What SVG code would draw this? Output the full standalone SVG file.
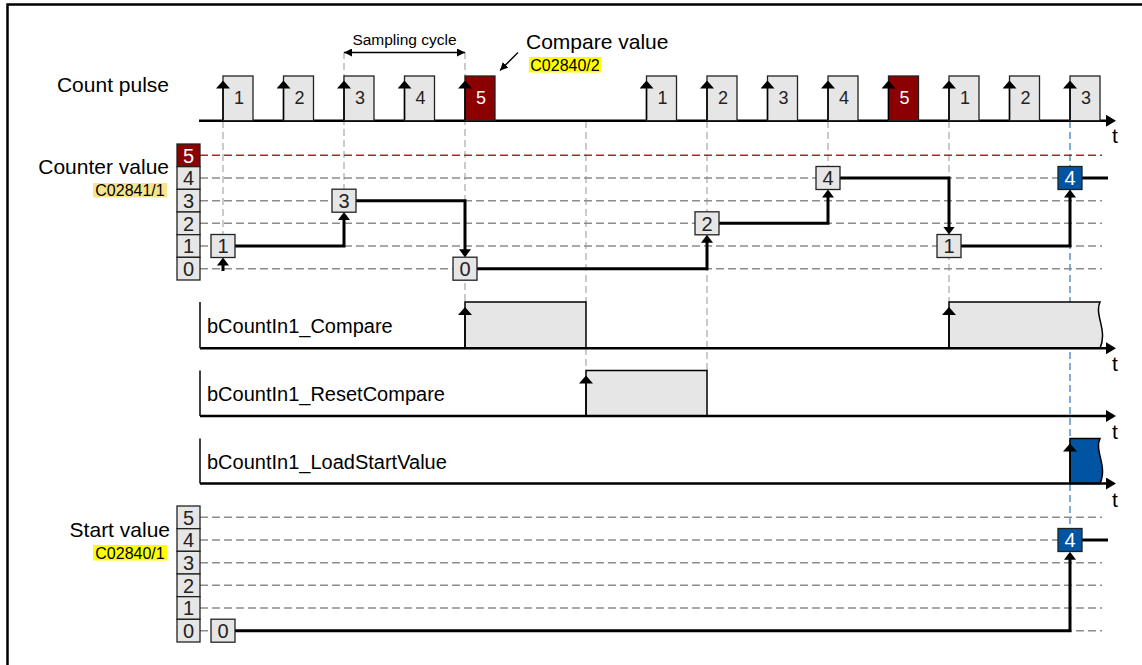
<svg xmlns="http://www.w3.org/2000/svg" width="1142" height="665" viewBox="0 0 1142 665">
<style>
.lbl{font-family:"Liberation Sans",Arial,sans-serif;font-size:21px;fill:#000}
.sig{font-family:"Liberation Sans",Arial,sans-serif;font-size:20px;fill:#000}
.code{font-family:"Liberation Sans",Arial,sans-serif;font-size:16px;fill:#000}
.small{font-family:"Liberation Sans",Arial,sans-serif;font-size:15.5px;fill:#000}
.dg{font-family:"Liberation Sans",Arial,sans-serif;font-size:18px;fill:#222;text-anchor:middle}
.dv{font-family:"Liberation Sans",Arial,sans-serif;font-size:20px;fill:#222;text-anchor:middle}
.w{fill:#fff}
.pulse{fill:#e6e6e6;stroke:#222;stroke-width:1.3}
.red{fill:#8b0000;stroke:#222;stroke-width:1.3}
.blue{fill:#0054a2;stroke:#222;stroke-width:1.3}
.box{fill:#e6e6e6;stroke:#222;stroke-width:1.3}
.axis{stroke:#000;stroke-width:2.5;fill:none;marker-end:url(#ax)}
.thin{stroke:#000;stroke-width:1.5;fill:none}
.rise{stroke:#000;stroke-width:1.5;fill:none;marker-end:url(#pa)}
.step{stroke:#000;stroke-width:3;fill:none}
.stepa{stroke:#000;stroke-width:3;fill:none;marker-end:url(#ah)}
.hd{stroke:#8c8c8c;stroke-width:1.5;stroke-dasharray:8 4;fill:none}
.hdr{stroke:#a52a2a;stroke-width:1.5;stroke-dasharray:8 4;fill:none}
.vd{stroke:#a8a8a8;stroke-width:1.2;stroke-dasharray:7 4;fill:none}
.vdb{stroke:#2f74c0;stroke-width:1.2;stroke-dasharray:7 4;fill:none}
.t{font-family:"Liberation Sans",Arial,sans-serif;font-size:21px;fill:#000;text-anchor:middle}
</style>
<defs>
<marker id="ax" viewBox="0 0 10 12" markerWidth="10" markerHeight="12" refX="2" refY="6" orient="auto" markerUnits="userSpaceOnUse" preserveAspectRatio="none"><path d="M0,0 L10,6 L0,12 z" fill="#000"/></marker>
<marker id="ah" viewBox="0 0 8 12" markerWidth="8" markerHeight="12" refX="2" refY="6" orient="auto" markerUnits="userSpaceOnUse" preserveAspectRatio="none"><path d="M0,0 L8,6 L0,12 z" fill="#000"/></marker>
<marker id="pa" viewBox="0 0 8 14" markerWidth="8" markerHeight="14" refX="2" refY="7" orient="auto" markerUnits="userSpaceOnUse" preserveAspectRatio="none"><path d="M0,0 L8,7 L0,14 z" fill="#000"/></marker>
<marker id="sm" viewBox="0 0 8 8" markerWidth="8" markerHeight="8" refX="8" refY="4" orient="auto-start-reverse" markerUnits="userSpaceOnUse" preserveAspectRatio="none"><path d="M0,0 L8,4 L0,8 z" fill="#000"/></marker>
</defs>
<rect x="0" y="0" width="1142" height="665" fill="#fff"/>
<rect id="frame" x="7.5" y="4.5" width="1160" height="700" fill="none" stroke="#000" stroke-width="2.5"/>

<g id="connectors">
<line class="vd" x1="223" y1="121" x2="223" y2="234"/>
<line class="vd" x1="344" y1="52" x2="344" y2="189"/>
<line class="vd" x1="465" y1="52" x2="465" y2="302"/>
<line class="vd" x1="586" y1="121" x2="586" y2="302"/>
<line class="vd" x1="586" y1="348" x2="586" y2="370"/>
<line class="vd" x1="707" y1="121" x2="707" y2="370"/>
<line class="vd" x1="828" y1="121" x2="828" y2="166"/>
<line class="vd" x1="949" y1="121" x2="949" y2="302"/>
<line class="vdb" x1="1070" y1="121" x2="1070" y2="528"/>
<line class="hdr" x1="200" y1="155.3" x2="1102" y2="155.3"/>
<line class="hd" x1="200" y1="178" x2="1102" y2="178"/>
<line class="hd" x1="200" y1="200.7" x2="1102" y2="200.7"/>
<line class="hd" x1="200" y1="223.3" x2="1102" y2="223.3"/>
<line class="hd" x1="200" y1="246" x2="1102" y2="246"/>
<line class="hd" x1="200" y1="268.7" x2="1102" y2="268.7"/>
<line class="hd" x1="200" y1="517.3" x2="1102" y2="517.3"/>
<line class="hd" x1="200" y1="540" x2="1102" y2="540"/>
<line class="hd" x1="200" y1="562.7" x2="1102" y2="562.7"/>
<line class="hd" x1="200" y1="585.3" x2="1102" y2="585.3"/>
<line class="hd" x1="200" y1="608" x2="1102" y2="608"/>
<line class="hd" x1="200" y1="630.7" x2="1102" y2="630.7"/>
<line x1="344" y1="52.5" x2="465" y2="52.5" stroke="#000" stroke-width="1.3" marker-start="url(#sm)" marker-end="url(#sm)"/>
<line x1="518" y1="52.5" x2="500" y2="70.5" stroke="#000" stroke-width="1.3" marker-end="url(#sm)"/>
<line class="stepa" x1="223" y1="271" x2="223" y2="263.5"/>
<path class="stepa" d="M235,246 H344 V218"/>
<path class="stepa" d="M356,200.7 H465 V251.3"/>
<path class="stepa" d="M477,268.7 H707 V240.8"/>
<path class="stepa" d="M719,223.3 H828 V195.5"/>
<path class="stepa" d="M840,178 H949 V228.5"/>
<path class="stepa" d="M961,246 H1070 V195.5"/>
<line class="step" x1="1082" y1="178" x2="1108" y2="178"/>
<path class="stepa" d="M235,630.7 H1070 V557.8"/>
<line class="step" x1="1082" y1="540" x2="1108" y2="540"/>
</g>

<g id="count-pulse">
<text class="lbl" x="169" y="91.5" text-anchor="end">Count pulse</text>
<line class="axis" x1="199" y1="120.7" x2="1108" y2="120.7"/>
<rect class="pulse" x="223" y="76" width="30" height="44.7"/>
<rect class="pulse" x="283.5" y="76" width="30" height="44.7"/>
<rect class="pulse" x="344" y="76" width="30" height="44.7"/>
<rect class="pulse" x="404.5" y="76" width="30" height="44.7"/>
<rect class="red" x="465" y="76" width="30" height="44.7"/>
<rect class="pulse" x="646.5" y="76" width="30" height="44.7"/>
<rect class="pulse" x="707" y="76" width="30" height="44.7"/>
<rect class="pulse" x="767.5" y="76" width="30" height="44.7"/>
<rect class="pulse" x="828" y="76" width="30" height="44.7"/>
<rect class="red" x="888.5" y="76" width="30" height="44.7"/>
<rect class="pulse" x="949" y="76" width="30" height="44.7"/>
<rect class="pulse" x="1009.5" y="76" width="30" height="44.7"/>
<rect class="pulse" x="1070" y="76" width="30" height="44.7"/>
<line class="rise" x1="223" y1="120" x2="223" y2="86.5"/>
<line class="rise" x1="283.5" y1="120" x2="283.5" y2="86.5"/>
<line class="rise" x1="344" y1="120" x2="344" y2="86.5"/>
<line class="rise" x1="404.5" y1="120" x2="404.5" y2="86.5"/>
<line class="rise" x1="465" y1="120" x2="465" y2="86.5"/>
<line class="rise" x1="646.5" y1="120" x2="646.5" y2="86.5"/>
<line class="rise" x1="707" y1="120" x2="707" y2="86.5"/>
<line class="rise" x1="767.5" y1="120" x2="767.5" y2="86.5"/>
<line class="rise" x1="828" y1="120" x2="828" y2="86.5"/>
<line class="rise" x1="888.5" y1="120" x2="888.5" y2="86.5"/>
<line class="rise" x1="949" y1="120" x2="949" y2="86.5"/>
<line class="rise" x1="1009.5" y1="120" x2="1009.5" y2="86.5"/>
<line class="rise" x1="1070" y1="120" x2="1070" y2="86.5"/>
<text class="dg" x="239" y="104">1</text>
<text class="dg" x="299.5" y="104">2</text>
<text class="dg" x="360" y="104">3</text>
<text class="dg" x="420.5" y="104">4</text>
<text class="dg w" x="481" y="104">5</text>
<text class="dg" x="662.5" y="104">1</text>
<text class="dg" x="723" y="104">2</text>
<text class="dg" x="783.5" y="104">3</text>
<text class="dg" x="844" y="104">4</text>
<text class="dg w" x="904.5" y="104">5</text>
<text class="dg" x="965" y="104">1</text>
<text class="dg" x="1025.5" y="104">2</text>
<text class="dg" x="1086" y="104">3</text>
<text class="t" x="1115" y="143">t</text>
<text class="small" x="404.5" y="45" text-anchor="middle">Sampling cycle</text>
</g>

<g id="compare-value">
<text class="lbl" x="526" y="49">Compare value</text>
<rect x="529" y="57" width="72" height="15.5" fill="#ffff00"/>
<text class="code" x="565" y="70.5" text-anchor="middle">C02840/2</text>
</g>

<g id="counter-value">
<text class="lbl" x="169" y="173.5" text-anchor="end">Counter value</text>
<rect x="93" y="183" width="74" height="14.5" fill="#f8e48e"/>
<text class="code" x="130" y="196" text-anchor="middle">C02841/1</text>
<rect class="red" x="177" y="144" width="23" height="22.67"/>
<rect class="box" x="177" y="166.67" width="23" height="22.67"/>
<rect class="box" x="177" y="189.33" width="23" height="22.67"/>
<rect class="box" x="177" y="212" width="23" height="22.67"/>
<rect class="box" x="177" y="234.67" width="23" height="22.67"/>
<rect class="box" x="177" y="257.33" width="23" height="22.67"/>
<text class="dv w" x="188.5" y="162.5">5</text>
<text class="dv" x="188.5" y="185.2">4</text>
<text class="dv" x="188.5" y="207.9">3</text>
<text class="dv" x="188.5" y="230.5">2</text>
<text class="dv" x="188.5" y="253.2">1</text>
<text class="dv" x="188.5" y="275.9">0</text>
<rect class="box" x="211" y="234.5" width="24" height="23"/>
<text class="dv" x="223" y="253.2">1</text>
<rect class="box" x="332" y="189.2" width="24" height="23"/>
<text class="dv" x="344" y="207.9">3</text>
<rect class="box" x="453" y="257.2" width="24" height="23"/>
<text class="dv" x="465" y="275.9">0</text>
<rect class="box" x="695" y="211.8" width="24" height="23"/>
<text class="dv" x="707" y="230.5">2</text>
<rect class="box" x="816" y="166.5" width="24" height="23"/>
<text class="dv" x="828" y="185.2">4</text>
<rect class="box" x="937" y="234.5" width="24" height="23"/>
<text class="dv" x="949" y="253.2">1</text>
<rect class="blue" x="1058" y="166.5" width="24" height="23"/>
<text class="dv w" x="1070" y="185.2">4</text>
</g>

<g id="compare-signal">
<line class="thin" x1="200" y1="302" x2="200" y2="348.3"/>
<path d="M465,348.3 V302 H586 V348.3 Z" fill="#e6e6e6" stroke="#000" stroke-width="1.5"/>
<path d="M949,348.3 V302 H1100 C1094,315 1108,330 1100,348.3 Z" fill="#e6e6e6" stroke="#000" stroke-width="1.5"/>
<line class="axis" x1="200" y1="348.3" x2="1108" y2="348.3"/>
<line class="rise" x1="465" y1="347" x2="465" y2="313"/>
<line class="rise" x1="949" y1="347" x2="949" y2="313"/>
<text class="sig" x="207" y="333.3">bCountIn1_Compare</text>
<text class="t" x="1115" y="370.5">t</text>
</g>

<g id="reset-compare-signal">
<line class="thin" x1="200" y1="370.5" x2="200" y2="416"/>
<rect x="586" y="370.5" width="121" height="45.5" fill="#e6e6e6" stroke="#000" stroke-width="1.5"/>
<line class="axis" x1="200" y1="416" x2="1108" y2="416"/>
<line class="rise" x1="586" y1="415" x2="586" y2="381.5"/>
<text class="sig" x="207" y="401.3">bCountIn1_ResetCompare</text>
<text class="t" x="1115" y="438.5">t</text>
</g>

<g id="load-start-value-signal">
<line class="thin" x1="200" y1="438.5" x2="200" y2="483.5"/>
<path d="M1070,483.5 V438.5 H1100 C1094,451 1108,466 1100,483.5 Z" fill="#0054a2" stroke="#000" stroke-width="1.5"/>
<line class="axis" x1="200" y1="483.5" x2="1108" y2="483.5"/>
<line class="rise" x1="1070" y1="482" x2="1070" y2="449.5"/>
<text class="sig" x="207" y="469">bCountIn1_LoadStartValue</text>
<text class="t" x="1115" y="506.5">t</text>
</g>

<g id="start-value">
<text class="lbl" x="170" y="536.7" text-anchor="end">Start value</text>
<rect x="93" y="545" width="74" height="15.5" fill="#ffff00"/>
<text class="code" x="130" y="558.5" text-anchor="middle">C02840/1</text>
<rect class="box" x="177" y="506" width="23" height="22.67"/>
<rect class="box" x="177" y="528.67" width="23" height="22.67"/>
<rect class="box" x="177" y="551.33" width="23" height="22.67"/>
<rect class="box" x="177" y="574" width="23" height="22.67"/>
<rect class="box" x="177" y="596.67" width="23" height="22.67"/>
<rect class="box" x="177" y="619.33" width="23" height="22.67"/>
<text class="dv" x="188.5" y="524.5">5</text>
<text class="dv" x="188.5" y="547.2">4</text>
<text class="dv" x="188.5" y="569.9">3</text>
<text class="dv" x="188.5" y="592.5">2</text>
<text class="dv" x="188.5" y="615.2">1</text>
<text class="dv" x="188.5" y="637.9">0</text>
<rect class="box" x="211" y="619.2" width="24" height="23"/>
<text class="dv" x="223" y="637.9">0</text>
<rect class="blue" x="1058" y="528.5" width="24" height="23"/>
<text class="dv w" x="1070" y="547.2">4</text>
</g>
</svg>
